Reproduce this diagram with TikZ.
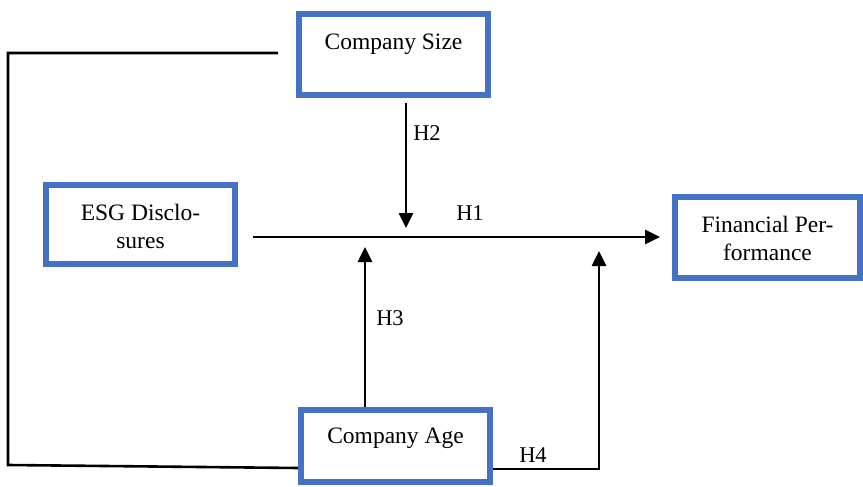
\documentclass[tikz,border=0pt]{standalone}
\usepackage{fontspec}
\setmainfont{Liberation Serif}
\usetikzlibrary{arrows.meta}
\definecolor{boxblue}{HTML}{4472C4}
\tikzset{
  box/.style={draw=boxblue, line width=6pt, fill=white, rectangle},
  txt/.style={font=\fontsize{23.5}{28}\selectfont, align=center, inner sep=0pt},
  conn/.style={line width=2.6pt, black},
  arr/.style={conn, -{Triangle[length=15pt,width=14pt]}},
  hlab/.style={font=\fontsize{22.5}{26}\selectfont, inner sep=0pt}
}
\begin{document}
\begin{tikzpicture}[x=1pt,y=-1pt]
\useasboundingbox (0,0) rectangle (863,487);
% boxes
\node[box, minimum width=189pt, minimum height=81pt] (size) at (393.5,54.5) {};
\node[txt] (sizeT) at (393.5,44) {Company Size};
\node[box, minimum width=189pt, minimum height=79pt] (esg) at (140.5,224.5) {};
\node[txt] (esgT) at (140.5,226.5) {ESG Disclo-\\sures};
\node[box, minimum width=185pt, minimum height=81pt] (fin) at (767.5,237.5) {};
\node[txt] (finT) at (767.5,238) {Financial Per-\\formance};
\node[box, minimum width=189pt, minimum height=72pt] (age) at (395.5,446) {};
\node[txt] (ageT) at (395.5,438) {Company Age};
% coordinates
\coordinate (h1s) at (253,237);
\coordinate (h2s) at (406,103);
\coordinate (h2e) at (406,228);
\coordinate (h3e) at (365,247);
\coordinate (h4c) at (599,469);
\coordinate (h4e) at (599,251);
\coordinate (l1) at (278,53);
\coordinate (l2) at (8,53);
\coordinate (l3) at (8,465);
% connectors
\draw[arr] (h1s) -- ([xshift=-12pt]fin.west |- h1s);
\draw[arr] (h2s) -- (h2e);
\draw[arr] (h3e |- age.north) -- (h3e);
\draw[arr] (age.east |- h4c) -- (h4c) -- (h4e);
\draw[conn] (l1) -- (l2) -- (l3) -- (age.west |- 0,468);
% labels
\node[hlab] (H1) at (470,213) {H1};
\node[hlab] (H2) at (427,133) {H2};
\node[hlab] (H3) at (390,318) {H3};
\node[hlab] (H4) at (533,455) {H4};
\end{tikzpicture}
\end{document}
